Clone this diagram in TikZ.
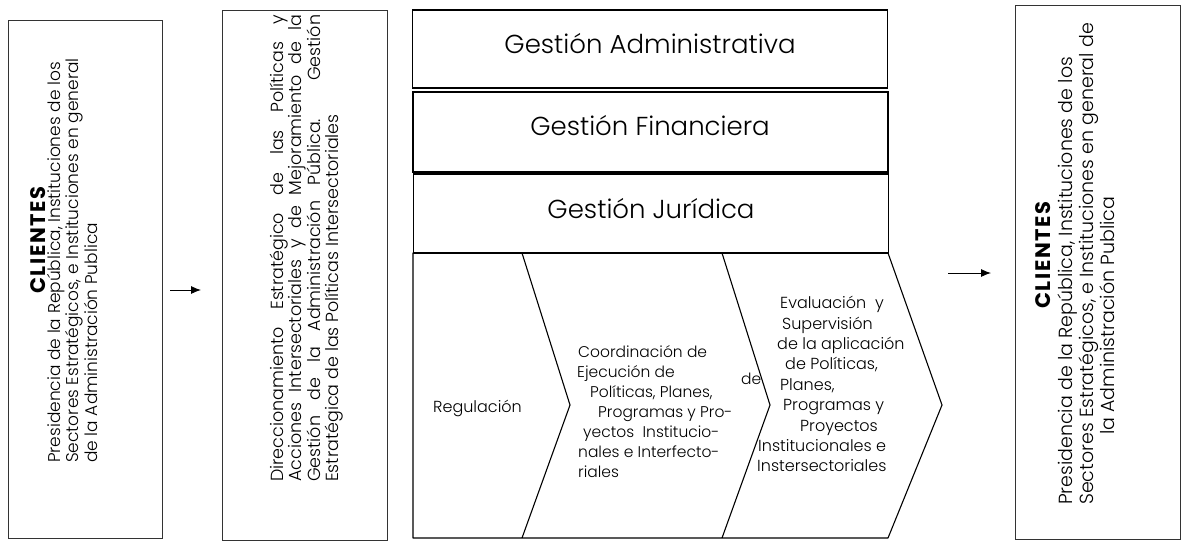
\documentclass[tikz,border=0pt]{standalone}
\usepackage{fontspec}
\setmainfont{Poppins}[UprightFont={* Light},BoldFont={* Bold}]
\usetikzlibrary{arrows.meta}

\begin{document}
\begin{tikzpicture}[x=1pt,y=-1pt,
    caja/.style={draw=black!80,line width=0.8pt,inner sep=0pt},
    gestion/.style={draw,line width=1.2pt,minimum width=475pt,inner sep=0pt},
    gtexto/.style={inner sep=0pt,anchor=base,font=\fontsize{26}{30}\selectfont},
    vert/.style={rotate=90,inner sep=0pt,anchor=north west},
    titulo/.style={rotate=90,inner sep=0pt,font=\fontsize{21}{24}\selectfont\bfseries\addfontfeature{LetterSpace=8}},
    paso/.style={inner sep=0pt,align=left,anchor=north west},
    flecha/.style={-{Latex[length=10pt,width=8pt]},line width=0.9pt}]
  \useasboundingbox (0,0) rectangle (1182,541);

  % cajas laterales
  \node[caja,minimum width=154pt,minimum height=518pt] (cli1) at (85,279) {};
  \node[caja,minimum width=165pt,minimum height=530pt] (dir) at (304.5,275) {};
  \node[caja,minimum width=165pt,minimum height=534pt] (cli2) at (1097.5,272) {};

  \node[titulo] (cli1t) at (38,240) {CLIENTES};
  \node[vert,align=left,font=\fontsize{17}{18.5}\selectfont] (cli1d) at (47,463)
    {Presidencia de la República, Instituciones de los\\
     Sectores Estratégicos, e Instituciones en general\\
     de la Administración Publica};

  \node[vert,align=justify,text width=467pt,font=\fontsize{17.5}{18}\selectfont] (dird) at (270,482)
    {Direccionamiento Estratégico de las Políticas y\linebreak
     Acciones Intersectoriales y de Mejoramiento de la\linebreak
     Gestión de la Administración Pública. Gestión\linebreak
     Estratégica de las Políticas Intersectoriales};

  \node[titulo] (cli2t) at (1043,255) {CLIENTES};
  \node[vert,align=left,font=\fontsize{19}{19.5}\selectfont] (cli2d) at (1058,505)
    {Presidencia de la República, Instituciones de los\\
     Sectores Estratégicos, e Instituciones en general de\\
     \hspace*{70pt}la Administración Publica};

  % gestiones
  \node[gestion,minimum height=78pt] (adm) at (650,49) {};
  \node[gestion,minimum height=80pt] (fin) at (650.5,132) {};
  \node[gestion,minimum height=79pt] (jur) at (651,213.5) {};
  \node[gtexto] (admt) at (650,53) {Gestión Administrativa};
  \node[gtexto] (fint) at (650,135) {Gestión Financiera};
  \node[gtexto] (jurt) at (651,218) {Gestión Jurídica};

  % cadena de valor
  \draw[line width=1.1pt,line join=round]
    (413,253) -- (888,253) -- (942,405) -- (888,538) -- (413,538) -- cycle
    (522,253) -- (570,405) -- (522,538)
    (722,253) -- (770,405) -- (722,538);

  \node[paso,anchor=base west,font=\fontsize{16}{20}\selectfont] (reg) at (433,412) {Regulación};
  \node[paso,font=\fontsize{15.5}{20}\selectfont] (coo) at (577,345)
    {\hspace*{1pt}Coordinación de\\
     Ejecución de\\
     \hspace*{13pt}Políticas, Planes,\\
     \hspace*{21pt}Programas y Pro-\\
     \hspace*{6pt}yectos\ \ Institucio-\\
     \hspace*{1pt}nales e Interfecto-\\
     \hspace*{1pt}riales};
  \node[paso,anchor=base west,font=\fontsize{15.5}{20}\selectfont] (coode) at (741,384) {de};
  \node[paso,font=\fontsize{16}{20.4}\selectfont] (eva) at (757,296)
    {\hspace*{23pt}Evaluación\ \ y\\
     \hspace*{25pt}Supervisión\\
     \hspace*{20pt}de la aplicación\\
     \hspace*{28pt}de Políticas,\\
     \hspace*{23pt}Planes,\\
     \hspace*{26pt}Programas y\\
     \hspace*{43pt}Proyectos\\
     \hspace*{1pt}Institucionales e\\
     Instersectoriales};

  % flechas
  \coordinate (f1a) at (170,290);
  \coordinate (f1b) at (201,290);
  \coordinate (f2a) at (948,273);
  \coordinate (f2b) at (991,273);
  \draw[flecha] (f1a) -- (f1b);
  \draw[flecha] (f2a) -- (f2b);
\end{tikzpicture}
\end{document}
